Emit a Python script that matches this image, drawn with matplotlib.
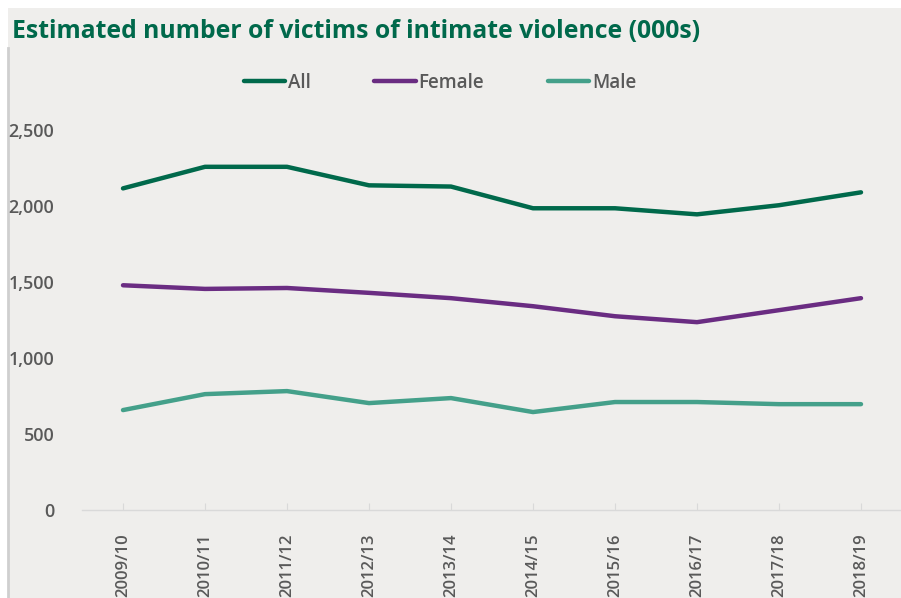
import numpy as np
import matplotlib
matplotlib.use('Agg')
import matplotlib.pyplot as plt
from matplotlib.patches import Rectangle
from matplotlib.lines import Line2D

years = ['2009/10', '2010/11', '2011/12', '2012/13', '2013/14',
         '2014/15', '2015/16', '2016/17', '2017/18', '2018/19']
all_v = [2118, 2260, 2260, 2138, 2130, 1987, 1987, 1947, 2007, 2092]
female_v = [1480, 1456, 1462, 1430, 1395, 1342, 1276, 1237, 1316, 1395]
male_v = [658, 763, 783, 704, 737, 645, 711, 711, 697, 697]

c_all = '#00694b'
c_fem = '#6a2c82'
c_male = '#44a08a'
c_txt = '#595959'
bg = '#efeeec'

plt.rcParams['font.family'] = ['Open Sans', 'DejaVu Sans']

fig = plt.figure(figsize=(9.01, 5.98), dpi=100, facecolor='white')
W, H = 901.0, 598.0
fig.patches.append(Rectangle((8/W, 0), 1, 1-8/H, transform=fig.transFigure,
                             facecolor=bg, edgecolor='none', zorder=-2))
fig.lines.append(Line2D([8/W, 8/W], [0, 1-48/H], transform=fig.transFigure,
                        color='#cfcfcf', lw=2, zorder=-1))

fig.text(12/W, 1-31/H, 'Estimated number of victims of intimate violence (000s)',
         color=c_all, fontsize=17.8, fontweight='bold', va='center', ha='left')

ax = fig.add_axes([82/W, 1-510/H, 820/W, 410/H])
ax.set_facecolor('none')
x = np.arange(len(years))
ax.plot(x, all_v, color=c_all, lw=3.2, solid_capstyle='round', label='All')
ax.plot(x, female_v, color=c_fem, lw=3.2, solid_capstyle='round', label='Female')
ax.plot(x, male_v, color=c_male, lw=3.2, solid_capstyle='round', label='Male')

ax.set_xlim(-0.5, 9.5)
ax.set_ylim(0, 2700)
ax.set_yticks([0, 500, 1000, 1500, 2000, 2500])
ax.set_yticklabels(['0', '500', '1,000', '1,500', '2,000', '2,500'])
ax.set_xticks(x)
ax.set_xticklabels(years, rotation=90)
for s in ['top', 'right', 'left']:
    ax.spines[s].set_visible(False)
ax.spines['bottom'].set_color('#d9d9d9')
ax.spines['bottom'].set_linewidth(1)
ax.tick_params(axis='y', length=0, pad=20, labelsize=13, labelcolor=c_txt)
ax.tick_params(axis='x', direction='in', length=5, color='#d9d9d9', pad=17,
               labelsize=12, labelcolor=c_txt)
for lab in ax.get_xticklabels() + ax.get_yticklabels():
    lab.set_fontweight('semibold')

leg = fig.legend(loc='center', bbox_to_anchor=(440/W, 1-83/H), ncol=3, frameon=False,
                 handlelength=2.2, handletextpad=0.15, columnspacing=3.4,
                 prop={'size': 13.5, 'weight': 'semibold'})
for t in leg.get_texts():
    t.set_color(c_txt)

fig.savefig('out.png', dpi=100, facecolor='white')
